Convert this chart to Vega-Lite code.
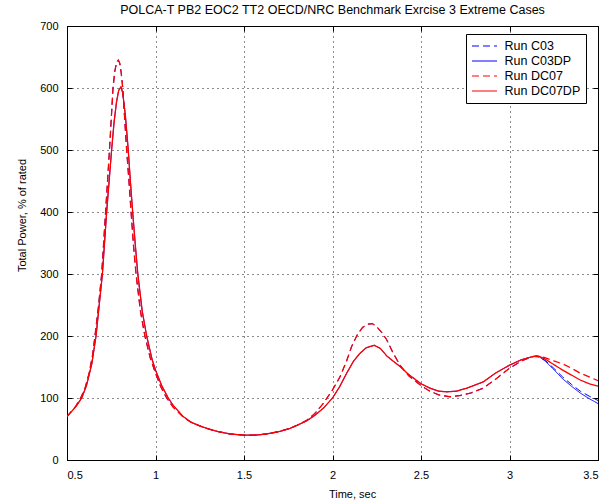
{
  "$schema": "https://vega.github.io/schema/vega-lite/v6.json",
  "autosize": {"type": "none"},
  "width": 531,
  "height": 434,
  "padding": {"left": 67, "top": 26, "right": 17, "bottom": 44},
  "background": "white",
  "title": {
    "text": "POLCA-T PB2 EOC2 TT2 OECD/NRC Benchmark Exrcise 3 Extreme Cases",
    "fontSize": 12.5,
    "fontWeight": "normal",
    "font": "Liberation Sans",
    "color": "black",
    "offset": 4,
    "anchor": "middle"
  },
  "data": {
    "values": [
      {"t": 0.5, "p": 70, "s": "Run C03"}, {"t": 0.55, "p": 87, "s": "Run C03"}, {"t": 0.577, "p": 100, "s": "Run C03"}, {"t": 0.6, "p": 114, "s": "Run C03"}, {"t": 0.625, "p": 140, "s": "Run C03"}, {"t": 0.645, "p": 170, "s": "Run C03"}, {"t": 0.658, "p": 200, "s": "Run C03"}, {"t": 0.678, "p": 248, "s": "Run C03"}, {"t": 0.696, "p": 300, "s": "Run C03"}, {"t": 0.707, "p": 350, "s": "Run C03"}, {"t": 0.718, "p": 400, "s": "Run C03"}, {"t": 0.729, "p": 450, "s": "Run C03"}, {"t": 0.74, "p": 500, "s": "Run C03"}, {"t": 0.75, "p": 550, "s": "Run C03"}, {"t": 0.76, "p": 600, "s": "Run C03"}, {"t": 0.77, "p": 627, "s": "Run C03"}, {"t": 0.78, "p": 641, "s": "Run C03"}, {"t": 0.79, "p": 645, "s": "Run C03"}, {"t": 0.798, "p": 640, "s": "Run C03"}, {"t": 0.806, "p": 625, "s": "Run C03"}, {"t": 0.815, "p": 600, "s": "Run C03"}, {"t": 0.826, "p": 550, "s": "Run C03"}, {"t": 0.837, "p": 500, "s": "Run C03"}, {"t": 0.85, "p": 450, "s": "Run C03"}, {"t": 0.862, "p": 400, "s": "Run C03"}, {"t": 0.876, "p": 345, "s": "Run C03"}, {"t": 0.89, "p": 300, "s": "Run C03"}, {"t": 0.915, "p": 240, "s": "Run C03"}, {"t": 0.94, "p": 200, "s": "Run C03"}, {"t": 0.97, "p": 165, "s": "Run C03"}, {"t": 1.0, "p": 140, "s": "Run C03"}, {"t": 1.03, "p": 118, "s": "Run C03"}, {"t": 1.063, "p": 100, "s": "Run C03"}, {"t": 1.1, "p": 85, "s": "Run C03"}, {"t": 1.157, "p": 69, "s": "Run C03"}, {"t": 1.2, "p": 61, "s": "Run C03"}, {"t": 1.25, "p": 55, "s": "Run C03"}, {"t": 1.3, "p": 50, "s": "Run C03"}, {"t": 1.35, "p": 46, "s": "Run C03"}, {"t": 1.42, "p": 42, "s": "Run C03"}, {"t": 1.5, "p": 40, "s": "Run C03"}, {"t": 1.56, "p": 40, "s": "Run C03"}, {"t": 1.628, "p": 42, "s": "Run C03"}, {"t": 1.7, "p": 46, "s": "Run C03"}, {"t": 1.76, "p": 51, "s": "Run C03"}, {"t": 1.8, "p": 56, "s": "Run C03"}, {"t": 1.854, "p": 64, "s": "Run C03"}, {"t": 1.9, "p": 75, "s": "Run C03"}, {"t": 1.95, "p": 92, "s": "Run C03"}, {"t": 2.0, "p": 113, "s": "Run C03"}, {"t": 2.042, "p": 134, "s": "Run C03"}, {"t": 2.08, "p": 160, "s": "Run C03"}, {"t": 2.108, "p": 183, "s": "Run C03"}, {"t": 2.14, "p": 202, "s": "Run C03"}, {"t": 2.17, "p": 214, "s": "Run C03"}, {"t": 2.2, "p": 219, "s": "Run C03"}, {"t": 2.225, "p": 220, "s": "Run C03"}, {"t": 2.25, "p": 215, "s": "Run C03"}, {"t": 2.28, "p": 205, "s": "Run C03"}, {"t": 2.306, "p": 194, "s": "Run C03"}, {"t": 2.34, "p": 174, "s": "Run C03"}, {"t": 2.381, "p": 153, "s": "Run C03"}, {"t": 2.43, "p": 136, "s": "Run C03"}, {"t": 2.5, "p": 120, "s": "Run C03"}, {"t": 2.55, "p": 111, "s": "Run C03"}, {"t": 2.6, "p": 105, "s": "Run C03"}, {"t": 2.664, "p": 102, "s": "Run C03"}, {"t": 2.72, "p": 104, "s": "Run C03"}, {"t": 2.78, "p": 108, "s": "Run C03"}, {"t": 2.852, "p": 116, "s": "Run C03"}, {"t": 2.92, "p": 130, "s": "Run C03"}, {"t": 3.0, "p": 148, "s": "Run C03"}, {"t": 3.07, "p": 160, "s": "Run C03"}, {"t": 3.12, "p": 166, "s": "Run C03"}, {"t": 3.154, "p": 168, "s": "Run C03"}, {"t": 3.2, "p": 161, "s": "Run C03"}, {"t": 3.25, "p": 148, "s": "Run C03"}, {"t": 3.3, "p": 134, "s": "Run C03"}, {"t": 3.35, "p": 122, "s": "Run C03"}, {"t": 3.4, "p": 111, "s": "Run C03"}, {"t": 3.45, "p": 103, "s": "Run C03"}, {"t": 3.5, "p": 96, "s": "Run C03"},

      {"t": 0.5, "p": 70, "s": "Run C03DP"}, {"t": 0.55, "p": 86, "s": "Run C03DP"}, {"t": 0.583, "p": 100, "s": "Run C03DP"}, {"t": 0.61, "p": 120, "s": "Run C03DP"}, {"t": 0.64, "p": 155, "s": "Run C03DP"}, {"t": 0.664, "p": 200, "s": "Run C03DP"}, {"t": 0.682, "p": 250, "s": "Run C03DP"}, {"t": 0.7, "p": 300, "s": "Run C03DP"}, {"t": 0.712, "p": 350, "s": "Run C03DP"}, {"t": 0.724, "p": 400, "s": "Run C03DP"}, {"t": 0.738, "p": 450, "s": "Run C03DP"}, {"t": 0.752, "p": 500, "s": "Run C03DP"}, {"t": 0.766, "p": 545, "s": "Run C03DP"}, {"t": 0.78, "p": 578, "s": "Run C03DP"}, {"t": 0.792, "p": 596, "s": "Run C03DP"}, {"t": 0.805, "p": 602, "s": "Run C03DP"}, {"t": 0.815, "p": 592, "s": "Run C03DP"}, {"t": 0.83, "p": 555, "s": "Run C03DP"}, {"t": 0.846, "p": 500, "s": "Run C03DP"}, {"t": 0.858, "p": 450, "s": "Run C03DP"}, {"t": 0.871, "p": 400, "s": "Run C03DP"}, {"t": 0.885, "p": 350, "s": "Run C03DP"}, {"t": 0.9, "p": 300, "s": "Run C03DP"}, {"t": 0.925, "p": 240, "s": "Run C03DP"}, {"t": 0.95, "p": 200, "s": "Run C03DP"}, {"t": 0.98, "p": 163, "s": "Run C03DP"}, {"t": 1.0, "p": 145, "s": "Run C03DP"}, {"t": 1.035, "p": 120, "s": "Run C03DP"}, {"t": 1.072, "p": 100, "s": "Run C03DP"}, {"t": 1.1, "p": 88, "s": "Run C03DP"}, {"t": 1.157, "p": 70, "s": "Run C03DP"}, {"t": 1.2, "p": 61, "s": "Run C03DP"}, {"t": 1.25, "p": 55, "s": "Run C03DP"}, {"t": 1.3, "p": 50, "s": "Run C03DP"}, {"t": 1.35, "p": 46, "s": "Run C03DP"}, {"t": 1.42, "p": 42, "s": "Run C03DP"}, {"t": 1.5, "p": 40, "s": "Run C03DP"}, {"t": 1.56, "p": 40, "s": "Run C03DP"}, {"t": 1.628, "p": 42, "s": "Run C03DP"}, {"t": 1.7, "p": 46, "s": "Run C03DP"}, {"t": 1.76, "p": 51, "s": "Run C03DP"}, {"t": 1.8, "p": 56, "s": "Run C03DP"}, {"t": 1.854, "p": 63, "s": "Run C03DP"}, {"t": 1.9, "p": 72, "s": "Run C03DP"}, {"t": 1.95, "p": 84, "s": "Run C03DP"}, {"t": 2.0, "p": 100, "s": "Run C03DP"}, {"t": 2.04, "p": 118, "s": "Run C03DP"}, {"t": 2.08, "p": 140, "s": "Run C03DP"}, {"t": 2.12, "p": 160, "s": "Run C03DP"}, {"t": 2.155, "p": 172, "s": "Run C03DP"}, {"t": 2.19, "p": 181, "s": "Run C03DP"}, {"t": 2.236, "p": 185, "s": "Run C03DP"}, {"t": 2.27, "p": 180, "s": "Run C03DP"}, {"t": 2.306, "p": 168, "s": "Run C03DP"}, {"t": 2.34, "p": 160, "s": "Run C03DP"}, {"t": 2.381, "p": 151, "s": "Run C03DP"}, {"t": 2.43, "p": 138, "s": "Run C03DP"}, {"t": 2.5, "p": 123, "s": "Run C03DP"}, {"t": 2.55, "p": 116, "s": "Run C03DP"}, {"t": 2.6, "p": 111, "s": "Run C03DP"}, {"t": 2.645, "p": 110, "s": "Run C03DP"}, {"t": 2.7, "p": 111, "s": "Run C03DP"}, {"t": 2.76, "p": 116, "s": "Run C03DP"}, {"t": 2.852, "p": 126, "s": "Run C03DP"}, {"t": 2.92, "p": 140, "s": "Run C03DP"}, {"t": 3.0, "p": 153, "s": "Run C03DP"}, {"t": 3.07, "p": 162, "s": "Run C03DP"}, {"t": 3.135, "p": 167, "s": "Run C03DP"}, {"t": 3.17, "p": 166, "s": "Run C03DP"}, {"t": 3.2, "p": 160, "s": "Run C03DP"}, {"t": 3.25, "p": 146, "s": "Run C03DP"}, {"t": 3.3, "p": 131, "s": "Run C03DP"}, {"t": 3.35, "p": 119, "s": "Run C03DP"}, {"t": 3.4, "p": 108, "s": "Run C03DP"}, {"t": 3.45, "p": 99, "s": "Run C03DP"}, {"t": 3.5, "p": 91, "s": "Run C03DP"},

      {"t": 0.5, "p": 70, "s": "Run DC07"}, {"t": 0.55, "p": 87, "s": "Run DC07"}, {"t": 0.577, "p": 100, "s": "Run DC07"}, {"t": 0.6, "p": 114, "s": "Run DC07"}, {"t": 0.625, "p": 140, "s": "Run DC07"}, {"t": 0.645, "p": 170, "s": "Run DC07"}, {"t": 0.658, "p": 200, "s": "Run DC07"}, {"t": 0.678, "p": 248, "s": "Run DC07"}, {"t": 0.696, "p": 300, "s": "Run DC07"}, {"t": 0.707, "p": 350, "s": "Run DC07"}, {"t": 0.718, "p": 400, "s": "Run DC07"}, {"t": 0.729, "p": 450, "s": "Run DC07"}, {"t": 0.74, "p": 500, "s": "Run DC07"}, {"t": 0.75, "p": 550, "s": "Run DC07"}, {"t": 0.76, "p": 600, "s": "Run DC07"}, {"t": 0.77, "p": 627, "s": "Run DC07"}, {"t": 0.78, "p": 641, "s": "Run DC07"}, {"t": 0.79, "p": 645, "s": "Run DC07"}, {"t": 0.798, "p": 640, "s": "Run DC07"}, {"t": 0.806, "p": 625, "s": "Run DC07"}, {"t": 0.815, "p": 600, "s": "Run DC07"}, {"t": 0.826, "p": 550, "s": "Run DC07"}, {"t": 0.837, "p": 500, "s": "Run DC07"}, {"t": 0.85, "p": 450, "s": "Run DC07"}, {"t": 0.862, "p": 400, "s": "Run DC07"}, {"t": 0.876, "p": 345, "s": "Run DC07"}, {"t": 0.89, "p": 300, "s": "Run DC07"}, {"t": 0.915, "p": 240, "s": "Run DC07"}, {"t": 0.94, "p": 200, "s": "Run DC07"}, {"t": 0.97, "p": 165, "s": "Run DC07"}, {"t": 1.0, "p": 140, "s": "Run DC07"}, {"t": 1.03, "p": 118, "s": "Run DC07"}, {"t": 1.063, "p": 100, "s": "Run DC07"}, {"t": 1.1, "p": 85, "s": "Run DC07"}, {"t": 1.157, "p": 69, "s": "Run DC07"}, {"t": 1.2, "p": 61, "s": "Run DC07"}, {"t": 1.25, "p": 55, "s": "Run DC07"}, {"t": 1.3, "p": 50, "s": "Run DC07"}, {"t": 1.35, "p": 46, "s": "Run DC07"}, {"t": 1.42, "p": 42, "s": "Run DC07"}, {"t": 1.5, "p": 40, "s": "Run DC07"}, {"t": 1.56, "p": 40, "s": "Run DC07"}, {"t": 1.628, "p": 42, "s": "Run DC07"}, {"t": 1.7, "p": 46, "s": "Run DC07"}, {"t": 1.76, "p": 51, "s": "Run DC07"}, {"t": 1.8, "p": 56, "s": "Run DC07"}, {"t": 1.854, "p": 64, "s": "Run DC07"}, {"t": 1.9, "p": 75, "s": "Run DC07"}, {"t": 1.95, "p": 92, "s": "Run DC07"}, {"t": 2.0, "p": 113, "s": "Run DC07"}, {"t": 2.042, "p": 134, "s": "Run DC07"}, {"t": 2.08, "p": 160, "s": "Run DC07"}, {"t": 2.108, "p": 183, "s": "Run DC07"}, {"t": 2.14, "p": 202, "s": "Run DC07"}, {"t": 2.17, "p": 214, "s": "Run DC07"}, {"t": 2.2, "p": 219, "s": "Run DC07"}, {"t": 2.225, "p": 220, "s": "Run DC07"}, {"t": 2.25, "p": 215, "s": "Run DC07"}, {"t": 2.28, "p": 205, "s": "Run DC07"}, {"t": 2.306, "p": 194, "s": "Run DC07"}, {"t": 2.34, "p": 174, "s": "Run DC07"}, {"t": 2.381, "p": 153, "s": "Run DC07"}, {"t": 2.43, "p": 136, "s": "Run DC07"}, {"t": 2.5, "p": 120, "s": "Run DC07"}, {"t": 2.55, "p": 111, "s": "Run DC07"}, {"t": 2.6, "p": 105, "s": "Run DC07"}, {"t": 2.664, "p": 102, "s": "Run DC07"}, {"t": 2.72, "p": 104, "s": "Run DC07"}, {"t": 2.78, "p": 108, "s": "Run DC07"}, {"t": 2.852, "p": 116, "s": "Run DC07"}, {"t": 2.92, "p": 130, "s": "Run DC07"}, {"t": 3.0, "p": 148, "s": "Run DC07"}, {"t": 3.07, "p": 160, "s": "Run DC07"}, {"t": 3.12, "p": 166, "s": "Run DC07"}, {"t": 3.154, "p": 168, "s": "Run DC07"}, {"t": 3.2, "p": 165, "s": "Run DC07"}, {"t": 3.25, "p": 160, "s": "Run DC07"}, {"t": 3.3, "p": 155, "s": "Run DC07"}, {"t": 3.35, "p": 148, "s": "Run DC07"}, {"t": 3.4, "p": 140, "s": "Run DC07"}, {"t": 3.45, "p": 134, "s": "Run DC07"}, {"t": 3.5, "p": 128, "s": "Run DC07"},

      {"t": 0.5, "p": 70, "s": "Run DC07DP"}, {"t": 0.55, "p": 86, "s": "Run DC07DP"}, {"t": 0.583, "p": 100, "s": "Run DC07DP"}, {"t": 0.61, "p": 120, "s": "Run DC07DP"}, {"t": 0.64, "p": 155, "s": "Run DC07DP"}, {"t": 0.664, "p": 200, "s": "Run DC07DP"}, {"t": 0.682, "p": 250, "s": "Run DC07DP"}, {"t": 0.7, "p": 300, "s": "Run DC07DP"}, {"t": 0.712, "p": 350, "s": "Run DC07DP"}, {"t": 0.724, "p": 400, "s": "Run DC07DP"}, {"t": 0.738, "p": 450, "s": "Run DC07DP"}, {"t": 0.752, "p": 500, "s": "Run DC07DP"}, {"t": 0.766, "p": 545, "s": "Run DC07DP"}, {"t": 0.78, "p": 578, "s": "Run DC07DP"}, {"t": 0.792, "p": 596, "s": "Run DC07DP"}, {"t": 0.805, "p": 602, "s": "Run DC07DP"}, {"t": 0.815, "p": 592, "s": "Run DC07DP"}, {"t": 0.83, "p": 555, "s": "Run DC07DP"}, {"t": 0.846, "p": 500, "s": "Run DC07DP"}, {"t": 0.858, "p": 450, "s": "Run DC07DP"}, {"t": 0.871, "p": 400, "s": "Run DC07DP"}, {"t": 0.885, "p": 350, "s": "Run DC07DP"}, {"t": 0.9, "p": 300, "s": "Run DC07DP"}, {"t": 0.925, "p": 240, "s": "Run DC07DP"}, {"t": 0.95, "p": 200, "s": "Run DC07DP"}, {"t": 0.98, "p": 163, "s": "Run DC07DP"}, {"t": 1.0, "p": 145, "s": "Run DC07DP"}, {"t": 1.035, "p": 120, "s": "Run DC07DP"}, {"t": 1.072, "p": 100, "s": "Run DC07DP"}, {"t": 1.1, "p": 88, "s": "Run DC07DP"}, {"t": 1.157, "p": 70, "s": "Run DC07DP"}, {"t": 1.2, "p": 61, "s": "Run DC07DP"}, {"t": 1.25, "p": 55, "s": "Run DC07DP"}, {"t": 1.3, "p": 50, "s": "Run DC07DP"}, {"t": 1.35, "p": 46, "s": "Run DC07DP"}, {"t": 1.42, "p": 42, "s": "Run DC07DP"}, {"t": 1.5, "p": 40, "s": "Run DC07DP"}, {"t": 1.56, "p": 40, "s": "Run DC07DP"}, {"t": 1.628, "p": 42, "s": "Run DC07DP"}, {"t": 1.7, "p": 46, "s": "Run DC07DP"}, {"t": 1.76, "p": 51, "s": "Run DC07DP"}, {"t": 1.8, "p": 56, "s": "Run DC07DP"}, {"t": 1.854, "p": 63, "s": "Run DC07DP"}, {"t": 1.9, "p": 72, "s": "Run DC07DP"}, {"t": 1.95, "p": 84, "s": "Run DC07DP"}, {"t": 2.0, "p": 100, "s": "Run DC07DP"}, {"t": 2.04, "p": 118, "s": "Run DC07DP"}, {"t": 2.08, "p": 140, "s": "Run DC07DP"}, {"t": 2.12, "p": 160, "s": "Run DC07DP"}, {"t": 2.155, "p": 172, "s": "Run DC07DP"}, {"t": 2.19, "p": 181, "s": "Run DC07DP"}, {"t": 2.236, "p": 185, "s": "Run DC07DP"}, {"t": 2.27, "p": 180, "s": "Run DC07DP"}, {"t": 2.306, "p": 168, "s": "Run DC07DP"}, {"t": 2.34, "p": 160, "s": "Run DC07DP"}, {"t": 2.381, "p": 151, "s": "Run DC07DP"}, {"t": 2.43, "p": 138, "s": "Run DC07DP"}, {"t": 2.5, "p": 123, "s": "Run DC07DP"}, {"t": 2.55, "p": 116, "s": "Run DC07DP"}, {"t": 2.6, "p": 111, "s": "Run DC07DP"}, {"t": 2.645, "p": 110, "s": "Run DC07DP"}, {"t": 2.7, "p": 111, "s": "Run DC07DP"}, {"t": 2.76, "p": 116, "s": "Run DC07DP"}, {"t": 2.852, "p": 126, "s": "Run DC07DP"}, {"t": 2.92, "p": 140, "s": "Run DC07DP"}, {"t": 3.0, "p": 153, "s": "Run DC07DP"}, {"t": 3.07, "p": 162, "s": "Run DC07DP"}, {"t": 3.135, "p": 167, "s": "Run DC07DP"}, {"t": 3.17, "p": 167, "s": "Run DC07DP"}, {"t": 3.2, "p": 163, "s": "Run DC07DP"}, {"t": 3.25, "p": 154, "s": "Run DC07DP"}, {"t": 3.3, "p": 145, "s": "Run DC07DP"}, {"t": 3.35, "p": 137, "s": "Run DC07DP"}, {"t": 3.4, "p": 129, "s": "Run DC07DP"}, {"t": 3.45, "p": 123, "s": "Run DC07DP"}, {"t": 3.5, "p": 119, "s": "Run DC07DP"}
    ]
  },
  "layer": [
    {
      "mark": {"type": "line", "clip": true},
      "encoding": {
        "x": {
          "field": "t",
          "type": "quantitative",
          "scale": {"domain": [0.5, 3.5], "nice": false, "zero": false},
          "axis": {
            "orient": "bottom",
            "title": "Time, sec",
            "values": [0.5, 1, 1.5, 2, 2.5, 3, 3.5],
            "format": "~g",
            "grid": true,
            "labelPadding": 14,
            "titleX": 285,
            "titleY": 28
          }
        },
        "y": {
          "field": "p",
          "type": "quantitative",
          "scale": {"domain": [0, 700], "nice": false},
          "axis": {
            "orient": "left",
            "title": "Total Power, % of rated",
            "values": [0, 100, 200, 300, 400, 500, 600, 700],
            "grid": true,
            "labelPadding": 14,
            "titleX": -40,
            "titleY": 189
          }
        },
        "color": {
          "field": "s",
          "type": "nominal",
          "title": null,
          "scale": {
            "domain": ["Run C03", "Run C03DP", "Run DC07", "Run DC07DP"],
            "range": ["#0000ff", "#0000ff", "#ff0000", "#ff0000"]
          }
        },
        "strokeDash": {
          "field": "s",
          "type": "nominal",
          "title": null,
          "scale": {
            "domain": ["Run C03", "Run C03DP", "Run DC07", "Run DC07DP"],
            "range": [[7, 4], [1, 0], [7, 4], [1, 0]]
          }
        },
        "strokeWidth": {
          "condition": {"test": "indexof(datum.s, 'DC07') >= 0", "value": 1.3},
          "value": 1
        },
        "order": {"field": "t", "type": "quantitative"}
      }
    },
    {
      "mark": {"type": "point", "opacity": 0},
      "encoding": {
        "x": {
          "field": "t",
          "type": "quantitative",
          "axis": {"orient": "top", "title": null, "labels": false, "grid": false, "domain": false,
                   "values": [0.5, 1, 1.5, 2, 2.5, 3, 3.5]}
        },
        "y": {
          "field": "p",
          "type": "quantitative",
          "axis": {"orient": "right", "title": null, "labels": false, "grid": false, "domain": false,
                   "values": [0, 100, 200, 300, 400, 500, 600, 700]}
        }
      }
    }
  ],
  "resolve": {"axis": {"x": "independent", "y": "independent"}},
  "config": {
    "font": "Liberation Sans",
    "view": {"stroke": "black", "strokeWidth": 1},
    "axis": {
      "domainColor": "black",
      "domainWidth": 1,
      "tickColor": "black",
      "tickSize": -5,
      "tickWidth": 1,
      "gridColor": "black",
      "gridDash": [1, 4],
      "gridOpacity": 0.9,
      "gridWidth": 1,
      "labelFont": "Liberation Sans",
      "labelFontSize": 11,
      "labelColor": "black",
      "titleFont": "Liberation Sans",
      "titleFontSize": 11,
      "titleFontWeight": "normal",
      "titleColor": "black"
    },
    "legend": {
      "orient": "none",
      "legendX": 399,
      "legendY": 8,
      "strokeColor": "black",
      "fillColor": "white",
      "padding": 5,
      "symbolType": "M-2,0H2",
      "symbolSize": 156.25,
      "symbolOffset": 6.5,
      "symbolStrokeWidth": 1,
      "labelFont": "Liberation Sans",
      "labelFontSize": 12.5,
      "labelColor": "black",
      "labelOffset": 13,
      "rowPadding": 1
    }
  }
}
